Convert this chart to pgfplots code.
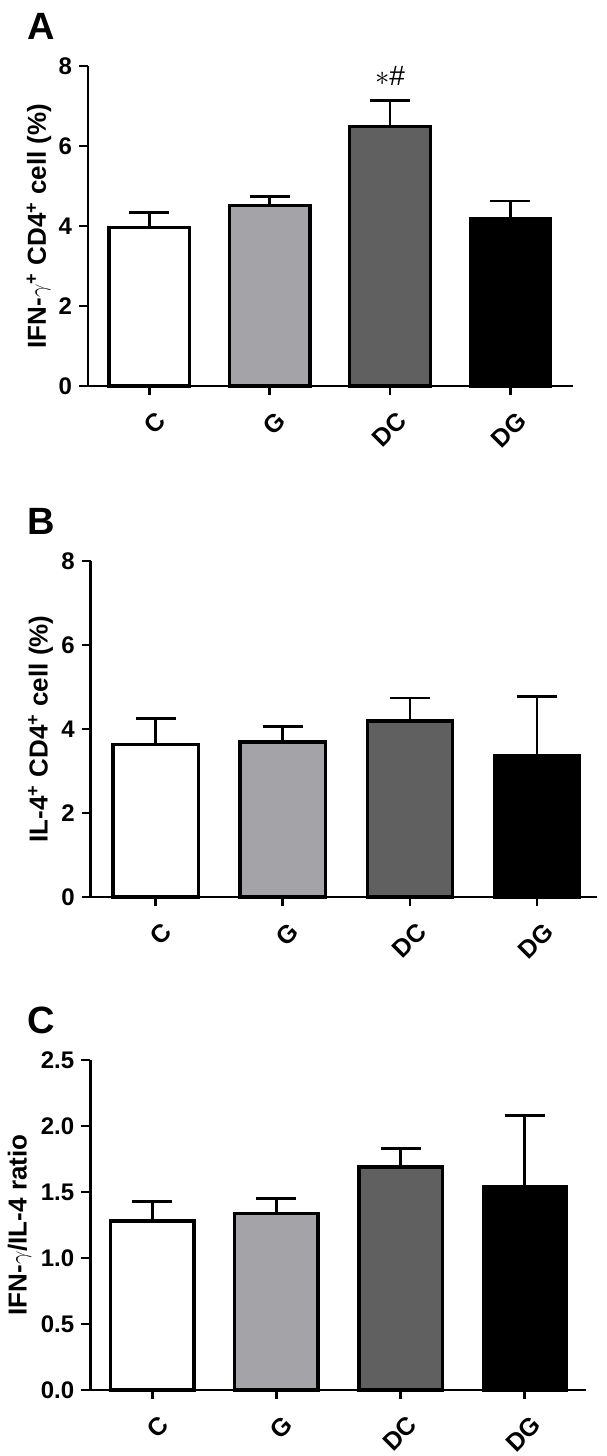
\documentclass[border=0pt]{standalone}
\usepackage{fontspec}
\setmainfont{Liberation Sans}
\usepackage{pgfplots}
\pgfplotsset{compat=1.18}

\definecolor{barG}{RGB}{163,163,168}
\definecolor{barDC}{RGB}{96,96,96}

\pgfplotsset{
  panel/.style={
    scale only axis, ybar, bar width=0.67, ymin=0, clip=false,
    axis x line=bottom, axis y line=left,
    axis line style={-, line width=1.25bp, black},
    xtick={0,1,2,3}, xticklabels={C,G,DC,DG},
    tick align=outside, major tick length=4.5bp,
    tick style={line width=1.25bp, black},
    x tick label style={rotate=45, anchor=north east, yshift=-4bp, font=\bfseries\fontsize{12.5bp}{14bp}\selectfont},
    y tick label style={font=\bfseries\fontsize{12bp}{14bp}\selectfont},
    ylabel style={font=\bfseries\fontsize{13bp}{15bp}\selectfont, anchor=center},
    /pgf/number format/assume math mode=true,
    every axis plot/.append style={bar shift=0pt, draw=black, line width=1.6bp,
      error bars/y dir=plus, error bars/y explicit,
      error bars/error bar style={line width=1.3bp, black},
      error bars/error mark options={rotate=90, line width=1.3bp, black, mark size=10bp}},
  },
}
\tikzset{letter/.style={font=\bfseries\fontsize{19bp}{19bp}\selectfont}}

\begin{document}
\begin{tikzpicture}
\useasboundingbox (0,0) rectangle (303.5bp,728bp);

% Panel A
\begin{axis}[panel, at={(44bp,535bp)}, anchor=south west, width=242.5bp, height=160bp,
  xmin=-0.51, xmax=3.52, ymax=8, ytick={0,2,4,6,8},
  ylabel={IFN-$\gamma$\textsuperscript{+} CD4\textsuperscript{+} cell (\%)},
  ylabel style={at={(axis description cs:-0.101,0.5)}}]
\addplot[fill=white] coordinates {(0,3.96) +- (0,0.37)};
\addplot[fill=barG] coordinates {(1,4.51) +- (0,0.22)};
\addplot[fill=barDC] coordinates {(2,6.48) +- (0,0.65)};
\addplot[fill=black] coordinates {(3,4.19) +- (0,0.43)};
\node[font=\fontsize{14bp}{14bp}\selectfont] at (axis cs:2,7.75) {$\ast$\#};
\end{axis}

% Panel B
\begin{axis}[panel, at={(45.35bp,279.5bp)}, anchor=south west, width=253bp, height=168bp,
  xmin=-0.51, xmax=3.47, ymax=8, ytick={0,2,4,6,8},
  ylabel={IL-4\textsuperscript{+} CD4\textsuperscript{+} cell (\%)},
  ylabel style={at={(axis description cs:-0.099,0.5)}}]
\addplot[fill=white] coordinates {(0,3.64) +- (0,0.61)};
\addplot[fill=barG] coordinates {(1,3.69) +- (0,0.37)};
\addplot[fill=barDC] coordinates {(2,4.19) +- (0,0.55)};
\addplot[fill=black] coordinates {(3,3.37) +- (0,1.40)};
\end{axis}

% Panel C
\begin{axis}[panel, at={(45.15bp,33bp)}, anchor=south west, width=247.6bp, height=165bp,
  xmin=-0.50, xmax=3.49, ymax=2.5, ytick={0,0.5,1,1.5,2,2.5},
  yticklabel style={/pgf/number format/.cd, fixed, fixed zerofill, precision=1},
  ylabel={IFN-$\gamma$/IL-4 ratio},
  ylabel style={at={(axis description cs:-0.143,0.5)}}]
\addplot[fill=white] coordinates {(0,1.28) +- (0,0.15)};
\addplot[fill=barG] coordinates {(1,1.34) +- (0,0.11)};
\addplot[fill=barDC] coordinates {(2,1.69) +- (0,0.14)};
\addplot[fill=black] coordinates {(3,1.54) +- (0,0.54)};
\end{axis}

\node[letter] at (20.5bp,715bp) {A};
\node[letter] at (20.5bp,467.5bp) {B};
\node[letter] at (20.5bp,218bp) {C};
\end{tikzpicture}
\end{document}
